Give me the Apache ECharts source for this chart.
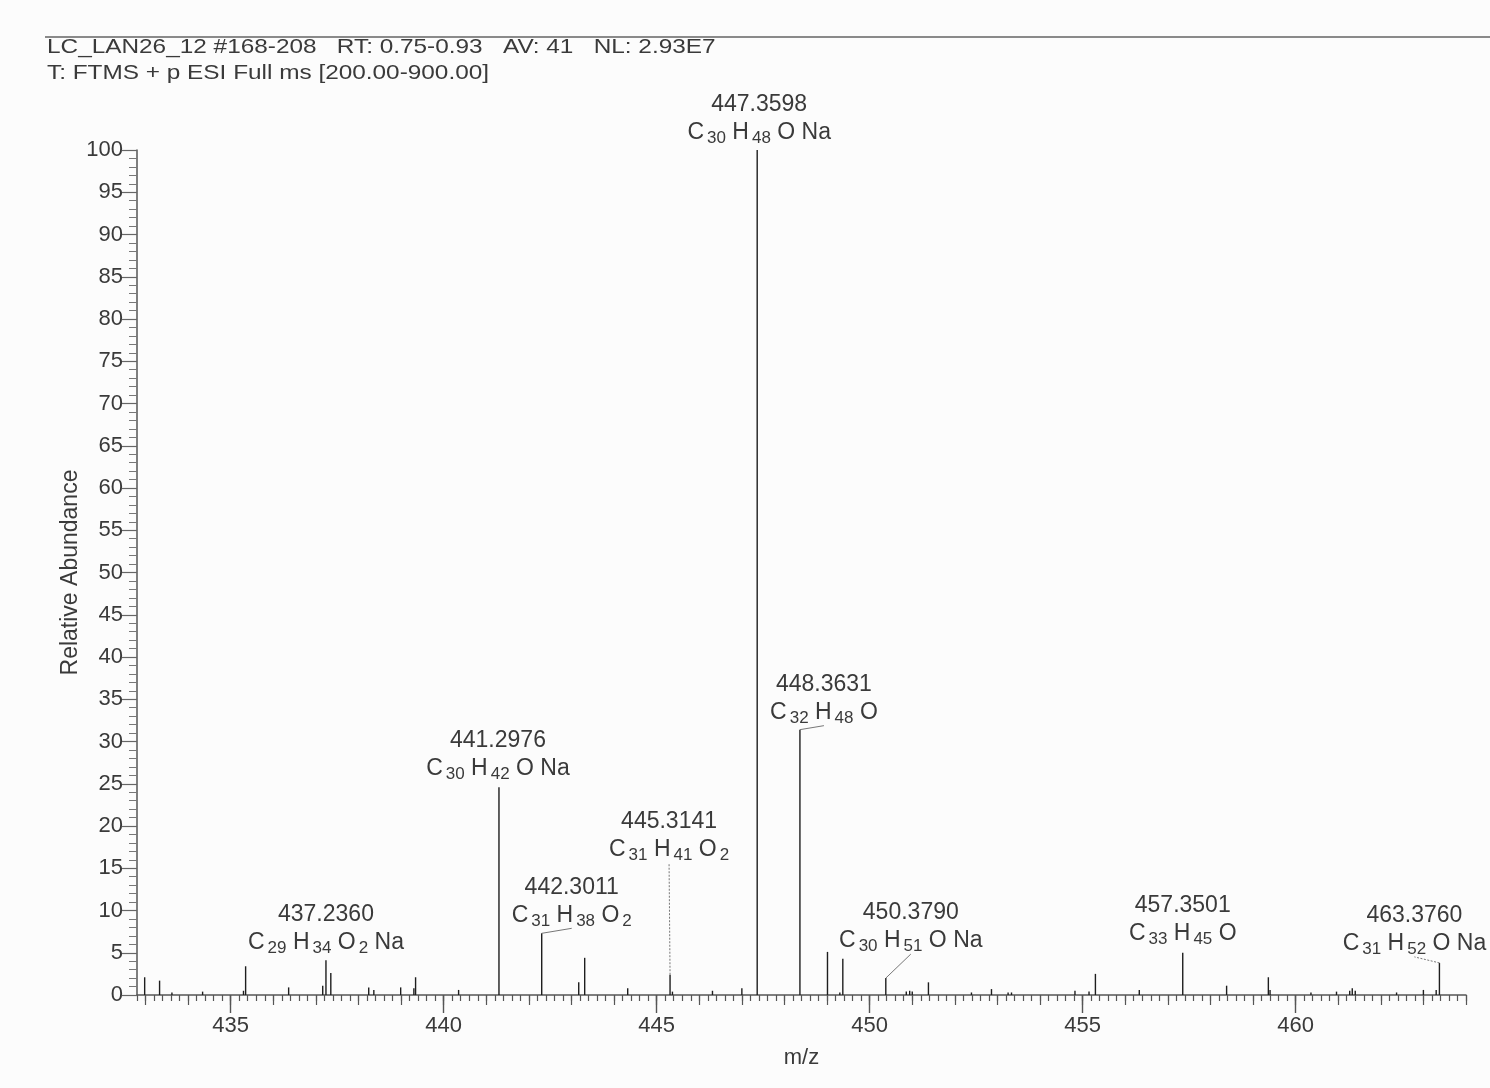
<!DOCTYPE html>
<html>
<head>
<meta charset="utf-8">
<script src="https://cdn.jsdelivr.net/npm/echarts@6/dist/echarts.min.js"></script>
<style>
html,body{margin:0;padding:0;background:#fcfcfc;}
#chart{width:1490px;height:1088px;}
</style>
</head>
<body>
<div id="chart"></div>
<script>
// ---- data ----
var headerLines = [
  'LC_LAN26_12 #168-208   RT: 0.75-0.93   AV: 41   NL: 2.93E7',
  'T: FTMS + p ESI Full ms [200.00-900.00]'
];
var peakMz = [432.98, 433.33, 433.62, 434.34, 435.30, 435.35, 436.36, 437.16, 437.2360, 437.35,
  438.24, 438.36, 438.99, 439.30, 439.34, 440.35, 441.2976, 442.3011, 443.17, 443.31,
  444.32, 445.3141, 445.37, 446.31, 447.00, 447.3598, 448.3631, 449.01, 449.30, 449.37,
  450.3790, 450.86, 450.94, 451.00, 451.38, 452.39, 452.86, 453.25, 453.33, 454.82,
  455.15, 455.30, 456.33, 457.3501, 458.38, 459.36, 459.40, 460.36, 460.96, 461.27,
  461.33, 461.40, 462.37, 463.00, 463.30, 463.3760];
var peakAbund = [2.1, 1.7, 0.3, 0.4, 0.5, 3.4, 0.9, 1.1, 4.1, 2.6,
  0.9, 0.6, 0.9, 0.8, 2.1, 0.6, 24.6, 7.3, 1.5, 4.4,
  0.8, 2.4, 0.4, 0.5, 0.8, 100, 31.4, 5.1, 0.3, 4.3,
  2.0, 0.4, 0.5, 0.4, 1.5, 0.3, 0.7, 0.3, 0.3, 0.5,
  0.4, 2.5, 0.6, 5.0, 1.1, 2.1, 0.6, 0.3, 0.4, 0.5,
  0.8, 0.5, 0.3, 0.6, 0.6, 3.8];
var labelMass = ['437.2360', '441.2976', '442.3011', '445.3141', '447.3598', '448.3631', '450.3790', '457.3501', '463.3760'];
var labelFormula = ['C29 H34 O2 Na', 'C30 H42 O Na', 'C31 H38 O2', 'C31 H41 O2', 'C30 H48 O Na', 'C32 H48 O', 'C30 H51 O Na', 'C33 H45 O', 'C31 H52 O Na'];
var labelAbund = [4.1, 24.6, 7.3, 2.4, 100, 31.4, 2.0, 5.0, 3.8];
var xTickLabels = [435, 440, 445, 450, 455, 460];
var yTickLabels = [0, 5, 10, 15, 20, 25, 30, 35, 40, 45, 50, 55, 60, 65, 70, 75, 80, 85, 90, 95, 100];

// ---- layout (pixel offsets of label anchor from peak top: dx, dy, dashed connector) ----
var labelLayout = [
  [0, -5, 0], [-1, -5, 0], [30, -5, 0], [-1, -112, 1], [2, -4, 0],
  [24, -4, 0], [25, -24, 0], [0, -6, 0], [-25, -6, 1]
];

var X_MIN = 432.8, X_MAX = 464;
var minorTicks = [], midTicks = [];
for (var i = 0; i <= Math.round((X_MAX - X_MIN) / 0.2); i++) minorTicks.push(+(X_MIN + i * 0.2).toFixed(1));
for (var k = Math.ceil(X_MIN); k <= Math.floor(X_MAX); k++) midTicks.push(k);

var FONT = '"Liberation Sans", Arial, sans-serif';
var TXT = '#3a3a3a';

function formulaRich(f) {
  return f.split(' ').map(function (part) {
    var m = part.match(/^([A-Za-z]+)(\d*)$/);
    return '{n|' + m[1] + '}' + (m[2] ? '{s|' + m[2] + '}' : '');
  }).join('{n| }');
}

var labelData = labelMass.map(function (m, i) { return [parseFloat(m), labelAbund[i], i]; });
var peakData = peakMz.map(function (m, i) { return [m, peakAbund[i]]; });

var chart = echarts.init(document.getElementById('chart'), null, {renderer: 'canvas'});
chart.setOption({
  backgroundColor: '#fcfcfc',
  animation: false,
  textStyle: {fontFamily: FONT},
  grid: {left: 137, right: 24, top: 150, bottom: 93, containLabel: false},
  graphic: [
    {type: 'line', shape: {x1: 45, y1: 37, x2: 1490, y2: 37}, style: {stroke: '#8a8a8a', lineWidth: 2}},
    {type: 'text', x: 47, y: 37, scaleX: 1.16, style: {text: headerLines[0], font: '21px ' + FONT, fill: TXT}},
    {type: 'text', x: 47, y: 63, scaleX: 1.16, style: {text: headerLines[1], font: '21px ' + FONT, fill: TXT}}
  ],
  xAxis: [
    {type: 'value', position: 'bottom', offset: 0, min: X_MIN, max: X_MAX, splitLine: {show: false},
      axisLine: {show: true, onZero: false, lineStyle: {color: '#555', width: 1.5}},
      axisTick: {show: true, customValues: minorTicks, length: 6, lineStyle: {color: '#555', width: 1.2}},
      axisLabel: {show: false},
      name: 'm/z', nameLocation: 'middle', nameGap: 52,
      nameTextStyle: {fontSize: 22, color: TXT, fontFamily: FONT}},
    {type: 'value', position: 'bottom', offset: 0, min: X_MIN, max: X_MAX, splitLine: {show: false},
      axisLine: {show: false, onZero: false},
      axisTick: {show: true, customValues: midTicks, length: 10, lineStyle: {color: '#555', width: 1.2}},
      axisLabel: {show: false}},
    {type: 'value', position: 'bottom', offset: 0, min: X_MIN, max: X_MAX, splitLine: {show: false},
      axisLine: {show: false, onZero: false},
      axisTick: {show: true, customValues: xTickLabels, length: 18, lineStyle: {color: '#555', width: 1.4}},
      axisLabel: {show: true, customValues: xTickLabels, fontSize: 22, color: TXT, margin: 20, fontFamily: FONT}}
  ],
  yAxis: {
    type: 'value', min: 0, max: 100, interval: 5,
    splitLine: {show: false},
    axisLine: {show: true, lineStyle: {color: '#555', width: 1.5}},
    axisTick: {show: true, length: 15, lineStyle: {color: '#666', width: 1.2}},
    minorTick: {show: true, splitNumber: 5, length: 8, lineStyle: {color: '#777', width: 1}},
    axisLabel: {fontSize: 22, color: TXT, margin: 14, fontFamily: FONT,
      formatter: function (v) { return yTickLabels.indexOf(v) >= 0 ? String(v) : ''; }},
    name: 'Relative Abundance', nameLocation: 'middle', nameGap: 55, nameMoveOverlap: false,
    nameTextStyle: {fontSize: 23, color: TXT, fontFamily: FONT}
  },
  series: [
    {
      type: 'custom', xAxisIndex: 0, yAxisIndex: 0, data: peakData, clip: false,
      renderItem: function (params, api) {
        var b = api.coord([api.value(0), 0]);
        var t = api.coord([api.value(0), api.value(1)]);
        return {type: 'line', shape: {x1: b[0], y1: b[1], x2: t[0], y2: t[1]},
          style: {stroke: '#1e1e1e', lineWidth: 1.4}};
      }
    },
    {
      type: 'custom', xAxisIndex: 0, yAxisIndex: 0, data: labelData, clip: false,
      renderItem: function (params, api) {
        var idx = api.value(2);
        var t = api.coord([api.value(0), api.value(1)]);
        var lay = labelLayout[idx];
        var ax = t[0] + lay[0], ay = t[1] + lay[1];
        var children = [];
        if (Math.abs(lay[0]) + Math.abs(lay[1]) > 6) {
          children.push({type: 'line', shape: {x1: t[0], y1: t[1], x2: ax, y2: ay},
            style: {stroke: '#777', lineWidth: 1, lineDash: lay[2] ? [2, 1.5] : null}});
        }
        children.push({type: 'text', style: {text: labelMass[idx], x: ax, y: ay - 41,
          align: 'center', verticalAlign: 'middle', font: '23px ' + FONT, fill: TXT}});
        children.push({type: 'text', style: {text: formulaRich(labelFormula[idx]), x: ax, y: ay - 13,
          align: 'center', verticalAlign: 'middle', fill: TXT,
          rich: {
            n: {fontSize: 23, lineHeight: 28, fontFamily: FONT, color: TXT, verticalAlign: 'middle'},
            s: {fontSize: 17, lineHeight: 17, fontFamily: FONT, color: TXT, verticalAlign: 'bottom', padding: [0, 0, 0, 3]}
          }}});
        return {type: 'group', children: children};
      }
    }
  ]
});
</script>
</body>
</html>
